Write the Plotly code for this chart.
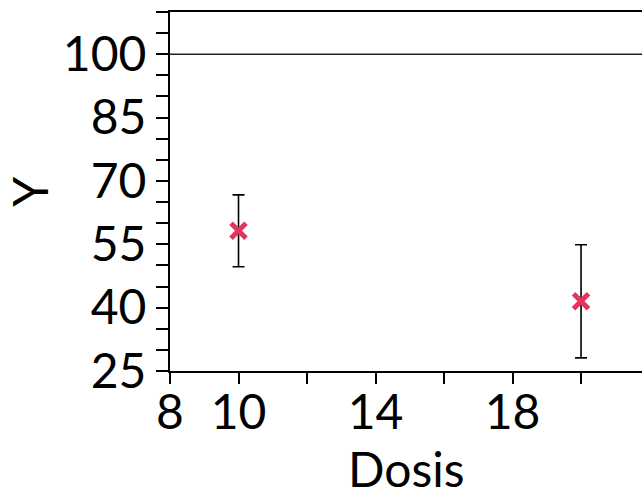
import plotly.graph_objects as go

# Dose-response summary: mean response with error bars at each dose
dosis = [10, 20]
y_mean = [58.2, 41.5]
y_err = [8.5, 13.4]
reference_level = 100

x_tickvals = [8, 10, 12, 14, 16, 18, 20]
x_ticktext = ["8", "10", "", "14", "", "18", ""]
y_tickvals = [25, 40, 55, 70, 85, 100]

FONT = "Lato"
FSIZE = 48

fig = go.Figure()

fig.add_trace(go.Scatter(
    x=dosis,
    y=y_mean,
    mode="markers",
    marker=dict(symbol="x-thin", size=15, color="#E5335E",
                line=dict(width=5, color="#E5335E")),
    error_y=dict(type="data", array=y_err, visible=True,
                 color="black", thickness=1.6, width=6),
    showlegend=False,
))

fig.add_hline(y=reference_level, line=dict(color="#222222", width=1.5), layer="below")

# Axis titles placed as paper-anchored annotations
fig.add_annotation(text="Dosis", xref="paper", yref="paper", x=0.5, y=-0.186,
                   xanchor="center", yanchor="top", showarrow=False,
                   font=dict(family=FONT, size=FSIZE, color="black"))
fig.add_annotation(text="Y", xref="paper", yref="paper", x=-0.298, y=0.5,
                   xanchor="center", yanchor="middle", textangle=-90, showarrow=False,
                   font=dict(family=FONT, size=FSIZE, color="black"))

fig.update_layout(
    width=642,
    height=488,
    margin=dict(l=170, r=0, t=12, b=117),
    paper_bgcolor="white",
    plot_bgcolor="white",
    font=dict(family=FONT, size=FSIZE, color="black"),
    xaxis=dict(
        range=[8, 21.78],
        automargin=False,
        tickmode="array",
        tickvals=x_tickvals,
        ticktext=x_ticktext,
        ticks="outside",
        ticklen=11,
        tickwidth=2,
        tickcolor="black",
        ticklabelstandoff=-13,
        showline=True,
        linecolor="black",
        linewidth=2,
        mirror=True,
        showgrid=False,
        zeroline=False,
        tickfont=dict(family=FONT, size=FSIZE),
    ),
    yaxis=dict(
        range=[25, 110],
        automargin=False,
        tickmode="array",
        tickvals=y_tickvals,
        ticks="outside",
        ticklen=12,
        tickwidth=2,
        tickcolor="black",
        minor=dict(dtick=5, tick0=25, ticks="outside", ticklen=12,
                   tickwidth=2, tickcolor="black", showgrid=False),
        showline=True,
        linecolor="black",
        linewidth=2,
        showgrid=False,
        zeroline=False,
        tickfont=dict(family=FONT, size=FSIZE),
    ),
)

fig.write_html("out.html")
